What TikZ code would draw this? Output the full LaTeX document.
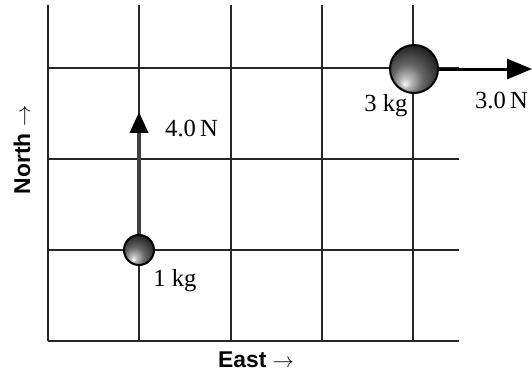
\documentclass[tikz,border=0pt]{standalone}
\usepackage{fontspec}
\setmainfont{Liberation Serif}
\setsansfont{Liberation Sans}
\usetikzlibrary{arrows.meta, positioning}

\pgfdeclareradialshading{ballshade}{\pgfpoint{-10bp}{-16bp}}{%
  color(0bp)=(white); color(5bp)=(white!75!black); color(16bp)=(black!60);
  color(30bp)=(black!85); color(50bp)=(black)}

\begin{document}
\begin{tikzpicture}[x=0.02cm, y=-0.02cm,
  grid line/.style={line width=0.04cm, black!85},
  mass/.style={circle, draw=black, line width=0.04cm, shading=ballshade, inner sep=0pt},
  force/.style={line width=0.06cm},
  lbl/.style={font=\fontsize{14}{16}\selectfont},
  axis/.style={font=\sffamily\bfseries\fontsize{13}{15}\selectfont}]

\useasboundingbox (0,0) rectangle (532,376);

\foreach \x in {48,139,231,322,413}
  \draw[grid line] (\x,5) -- (\x,341);
\foreach \y in {68,159,250,341}
  \draw[grid line] (48,\y) -- (459,\y);

% masses on the grid points
\node[mass, minimum size=0.6cm] (m1) at (139,250) {};
\node[mass, minimum size=0.96cm] (m3) at (414,69) {};

% forces
\coordinate (f1) at (139,112);
\coordinate (f3) at (532,69);
\draw[force, line width=0.08cm, black!75, -{Triangle[length=0.42cm, width=0.36cm, color=black]}] (m1.north) -- (f1);
\draw[force, black, -{Triangle[length=0.5cm, width=0.4cm]}] (m3.east) -- (f3);

\node[lbl, anchor=west] (l4) at (159,128) {4.0\,N};
\node[lbl, anchor=east] (l30) at (534,100) {3.0\,N};
\node[lbl] (l1) at (175,281) {1 kg};
\node[lbl] (l3) at (386,106) {3 kg};

\node[axis] (east) at (256,360) {East $\rightarrow$};
\node[axis, rotate=90] (north) at (22,150) {North $\rightarrow$};
\end{tikzpicture}
\end{document}
